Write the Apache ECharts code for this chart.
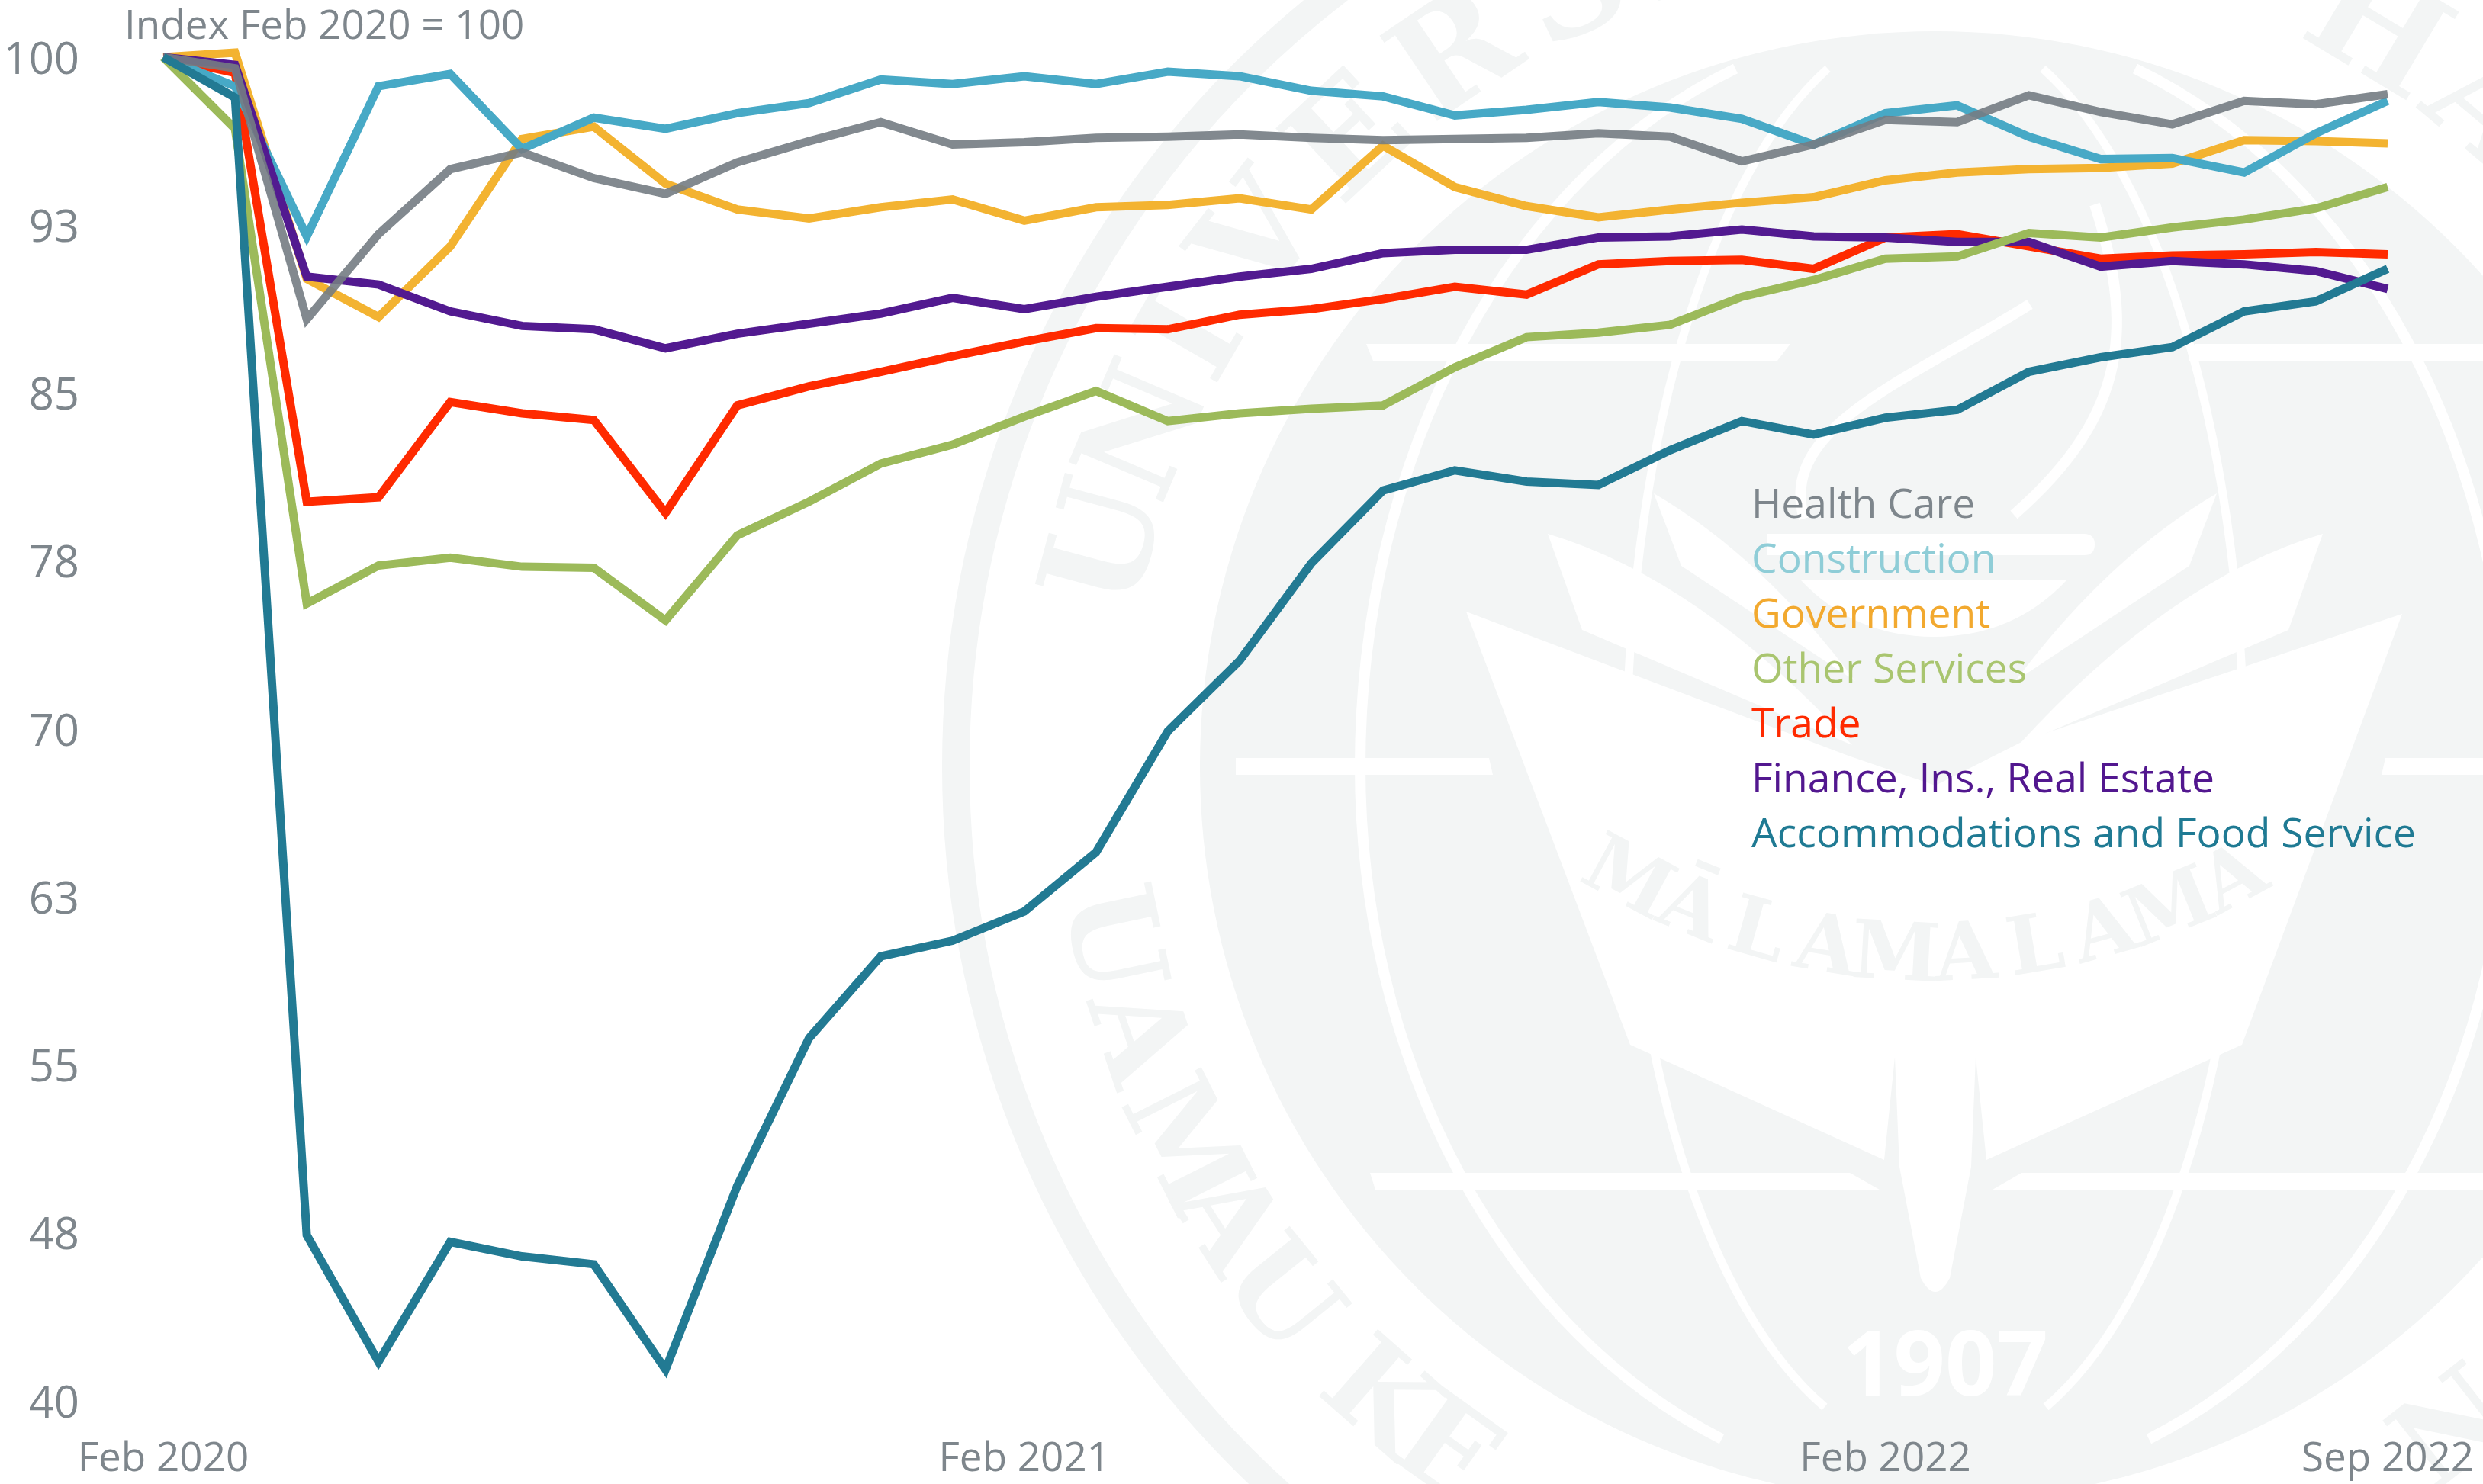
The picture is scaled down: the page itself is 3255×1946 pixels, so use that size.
<!DOCTYPE html>
<html>
<head>
<meta charset="utf-8">
<title>Jobs index by sector</title>
<script src="https://cdn.jsdelivr.net/npm/echarts@6/dist/echarts.min.js"></script>
<style>
  html, body { margin: 0; padding: 0; background: #fff; }
  #chart { width: 3255px; height: 1946px; }
</style>
</head>
<body>
<div id="chart"></div>
<script>
var months = [
  'Feb 2020', 'Mar 2020', 'Apr 2020', 'May 2020', 'Jun 2020', 'Jul 2020', 'Aug 2020', 'Sep 2020', 'Oct 2020', 'Nov 2020', 'Dec 2020',
  'Jan 2021', 'Feb 2021', 'Mar 2021', 'Apr 2021', 'May 2021', 'Jun 2021', 'Jul 2021', 'Aug 2021', 'Sep 2021', 'Oct 2021', 'Nov 2021', 'Dec 2021',
  'Jan 2022', 'Feb 2022', 'Mar 2022', 'Apr 2022', 'May 2022', 'Jun 2022', 'Jul 2022', 'Aug 2022', 'Sep 2022'
];
var xTickIndex = [0, 12, 24, 31];
var yTicks = [40, 47.5, 55, 62.5, 70, 77.5, 85, 92.5, 100];
var yTickLabels = ['40', '48', '55', '63', '70', '78', '85', '93', '100'];

var healthCare = [100, 99.5, 88.3, 92.1, 95, 95.75, 94.6, 93.9, 95.3, 96.25, 97.1, 96.1, 96.2, 96.4, 96.45, 96.55, 96.4, 96.3, 96.35, 96.4, 96.6, 96.45, 95.35, 96.1, 97.2, 97.1, 98.3, 97.55, 97, 98.05, 97.9, 98.35];
var construction = [100, 98.7, 92, 98.7, 99.25, 95.9, 97.3, 96.8, 97.5, 97.95, 99, 98.8, 99.15, 98.8, 99.35, 99.15, 98.5, 98.25, 97.4, 97.65, 98, 97.75, 97.25, 96.1, 97.5, 97.85, 96.45, 95.45, 95.5, 94.85, 96.6, 98.05];
var government = [100, 100.2, 90.1, 88.4, 91.55, 96.35, 96.9, 94.35, 93.2, 92.8, 93.3, 93.65, 92.7, 93.3, 93.4, 93.7, 93.2, 96.05, 94.2, 93.35, 92.85, 93.2, 93.5, 93.75, 94.5, 94.85, 95, 95.05, 95.25, 96.3, 96.25, 96.15];
var otherServices = [100, 96.8, 75.6, 77.3, 77.65, 77.25, 77.2, 74.85, 78.65, 80.15, 81.85, 82.7, 83.95, 85.1, 83.75, 84.1, 84.3, 84.45, 86.15, 87.5, 87.7, 88.05, 89.3, 90.05, 91, 91.1, 92.15, 91.95, 92.4, 92.75, 93.25, 94.2];
var trade = [100, 99.3, 80.15, 80.35, 84.6, 84.1, 83.8, 79.65, 84.45, 85.3, 85.95, 86.65, 87.3, 87.9, 87.85, 88.5, 88.75, 89.2, 89.75, 89.4, 90.75, 90.9, 90.95, 90.55, 91.95, 92.1, 91.55, 91, 91.15, 91.2, 91.3, 91.2];
var finance = [100, 99.66, 90.2, 89.85, 88.65, 88, 87.85, 87, 87.65, 88.1, 88.55, 89.25, 88.75, 89.3, 89.75, 90.2, 90.55, 91.25, 91.4, 91.4, 91.95, 92, 92.3, 92, 91.95, 91.75, 91.75, 90.65, 90.9, 90.75, 90.45, 89.65];
var accommodations = [100, 98.2, 47.4, 41.75, 47.1, 46.45, 46.1, 41.4, 49.6, 56.2, 59.85, 60.55, 61.85, 64.5, 69.9, 73.05, 77.4, 80.65, 81.55, 81.05, 80.9, 82.45, 83.75, 83.15, 83.9, 84.25, 85.95, 86.6, 87.05, 88.65, 89.1, 90.55];

var legendNames = ['Health Care', 'Construction', 'Government', 'Other Services', 'Trade', 'Finance, Ins., Real Estate', 'Accommodations and Food Service'];
var legendColors = ['#7e868c', '#8fcdd7', '#f2a92f', '#a9c56f', '#ff2a00', '#52178f', '#1f7a93'];

var FONT = '"Open Sans"';
var TEXT_GRAY = '#7e868c';
var SEAL = '#f3f5f5';

// watermark seal behind the lines, all in page pixels
var cx = 2537, cy = 1005;

function letterOnArc(ch, deg, radius, size, top) {
  // deg: angle left(-)/right(+) of the vertical, top = upper half of the seal
  var a = deg * Math.PI / 180;
  var px = cx + radius * Math.sin(a);
  var py = top ? cy - radius * Math.cos(a) : cy + radius * Math.cos(a);
  return {
    type: 'text', x: px, y: py, rotation: top ? -a : a, silent: true,
    style: { text: ch, fill: SEAL, font: 'bold ' + size + 'px "DejaVu Serif"', align: 'center', verticalAlign: 'middle' }
  };
}

// graphic has no plain path type, so every svg path gets its own shape class
var pathCount = 0;
function pathEl(d, style) {
  var name = 'sealPath' + (pathCount++);
  echarts.graphic.registerShape(name, echarts.graphic.extendPath(d, {}));
  return { type: name, silent: true, style: style };
}

function sealWhite(d) {
  return pathEl(d, { fill: '#fff' });
}

function sealArc(d, w) {
  return pathEl(d, { fill: null, stroke: '#fff', lineWidth: w });
}

var sealElements = [
  { type: 'circle', silent: true, shape: { cx: cx, cy: cy, r: 1284 }, style: { fill: null, stroke: SEAL, lineWidth: 36 } },
  { type: 'circle', silent: true, shape: { cx: cx, cy: cy, r: 964 }, style: { fill: SEAL } },
  // longitudes
  sealArc('M2275 90 A754 976 0 0 0 1783 1005 A754 950 0 0 0 2257 1887', 14),
  sealArc('M2799 90 A754 976 0 0 1 3291 1005 A754 950 0 0 1 2817 1887', 14),
  sealArc('M2396 90 A405 976 0 0 0 2132 1005 A405 900 0 0 0 2392 1845', 11),
  sealArc('M2678 90 A405 976 0 0 1 2942 1005 A405 900 0 0 1 2682 1845', 11),
  // latitude bars
  sealWhite('M1791 451 H2347 L2330 473 H1800 Z'),
  sealWhite('M2877 451 H3255 V473 H2869 Z'),
  sealWhite('M1620 994 H1952 L1957 1016 H1620 Z'),
  sealWhite('M3127 994 H3255 V1016 H3122 Z'),
  sealWhite('M1796 1538 H2425 L2464 1560 H1803 Z'),
  sealWhite('M2650 1538 H3255 V1560 H2612 Z'),
  // fan with the central stem
  sealWhite('M1922 802 L2423 991 L2537 1030 L2656 970 L3149 805 L2939 1370 L2604 1521 L2590 1386 L2584 1530 L2556 1676 Q2537 1712 2518 1676 L2490 1530 L2484 1386 L2470 1521 L2137 1370 Z'),
  // leaves
  sealWhite('M2029 700 Q2230 760 2428 977 L2074 826 Z'),
  sealWhite('M3045 700 Q2844 760 2646 977 L3000 826 Z'),
  sealWhite('M2168 647 Q2310 730 2432 893 L2204 742 Z'),
  sealWhite('M2906 647 Q2764 730 2642 893 L2870 742 Z'),
  // bar, bowl and flame at the top of the torch
  sealWhite('M2316 700 H2732 Q2746 700 2746 714 Q2746 728 2732 728 H2316 Z'),
  sealWhite('M2360 760 H2710 Q2640 835 2535 835 Q2430 835 2360 760 Z'),
  sealArc('M2661 399 C2500 500 2330 560 2365 680', 14),
  sealArc('M2746 268 C2795 420 2795 540 2640 675', 14),
  { type: 'text', x: 2550, y: 1796, silent: true, style: { text: '1907', fill: '#fff', font: 'bold 118px ' + FONT, align: 'center', verticalAlign: 'middle' } }
];

var upperLetters = [['U', -75], ['N', -67], ['I', -60], ['V', -52], ['E', -43], ['R', -34], ['S', -25], ['I', -18], ['T', -11], ['Y', -3], ['O', 10], ['F', 18], ['H', 31], ['A', 40], ['W', 50], ['A', 60], ['I', 67], ['I', 73]];
var lowerLetters = [['U', -78.1], ['A', -71.4], ['M', -63.2], ['A', -57.3], ['U', -51], ['K', -41.3], ['E', -35.5], ['N', 38]];
upperLetters.forEach(function (l) { sealElements.push(letterOnArc(l[0], l[1], 1115, 185, true)); });
lowerLetters.forEach(function (l) { sealElements.push(letterOnArc(l[0], l[1], 1112, 160, false)); });

// MALAMALAMA sits on a small arc inside the fan
var motto = ['M', 'Ā', 'L', 'A', 'M', 'A', 'L', 'A', 'M', 'A'];
motto.forEach(function (ch, i) {
  var a = (i - 4.5) * 6.3 * Math.PI / 180;
  sealElements.push({
    type: 'text', silent: true,
    x: cx - 6 + 841 * Math.sin(a), y: 417 + 841 * Math.cos(a), rotation: a,
    style: { text: ch, fill: SEAL, font: 'bold 105px "DejaVu Serif"', align: 'center', verticalAlign: 'middle' }
  });
});

function lineSeries(name, data, color, opacity) {
  return {
    name: name,
    type: 'line',
    data: data,
    symbol: 'none',
    smooth: false,
    lineStyle: { color: color, width: 11, opacity: opacity, join: 'miter', miterLimit: 12, cap: 'butt' },
    itemStyle: { color: color }
  };
}

var myChart = echarts.init(document.getElementById('chart'));

var option = {
  animation: false,
  backgroundColor: '#fff',
  textStyle: { fontFamily: FONT },
  graphic: { elements: sealElements },
  title: {
    text: 'Index Feb 2020 = 100',
    left: 163,
    top: 9,
    padding: 0,
    textStyle: { color: TEXT_GRAY, fontFamily: FONT, fontSize: 53, fontWeight: 'normal' }
  },
  legend: {
    orient: 'vertical',
    left: 2291,
    top: 628,
    padding: 0,
    itemGap: 0,
    itemWidth: 0,
    itemHeight: 0,
    icon: 'none',
    selectedMode: false,
    data: legendNames.map(function (n, i) {
      return { name: n, textStyle: { color: legendColors[i] } };
    }),
    textStyle: { fontFamily: FONT, fontSize: 53.4, lineHeight: 72 }
  },
  grid: { left: 214, right: 125, top: 16.26, bottom: 109 },
  xAxis: {
    type: 'category',
    boundaryGap: false,
    data: months,
    axisLine: { show: false },
    axisTick: { show: false },
    splitLine: { show: false },
    axisLabel: {
      customValues: xTickIndex,
      color: TEXT_GRAY,
      fontFamily: FONT,
      fontSize: 53,
      margin: 50
    }
  },
  yAxis: {
    type: 'value',
    min: 40,
    max: 102,
    axisLine: { show: false },
    axisTick: { show: false },
    splitLine: { show: false },
    axisLabel: {
      customValues: yTicks,
      color: TEXT_GRAY,
      fontFamily: FONT,
      fontSize: 58,
      margin: 110,
      // small line box hung from the tick, pushes the digits a few px down
      verticalAlign: 'top',
      lineHeight: 10,
      formatter: function (v) {
        return yTickLabels[yTicks.indexOf(v)];
      }
    }
  },
  // draw order as in the picture, not legend order
  series: [
    lineSeries('Trade', trade, '#ff2a00', 1),
    lineSeries('Government', government, '#f3b331', 1),
    lineSeries('Construction', construction, '#47a9c6', 1),
    lineSeries('Finance, Ins., Real Estate', finance, '#521a90', 1),
    lineSeries('Other Services', otherServices, '#9cba5a', 1),
    lineSeries('Health Care', healthCare, '#747c83', 0.9),
    lineSeries('Accommodations and Food Service', accommodations, '#227a93', 1)
  ]
};

myChart.setOption(option);
</script>
</body>
</html>
